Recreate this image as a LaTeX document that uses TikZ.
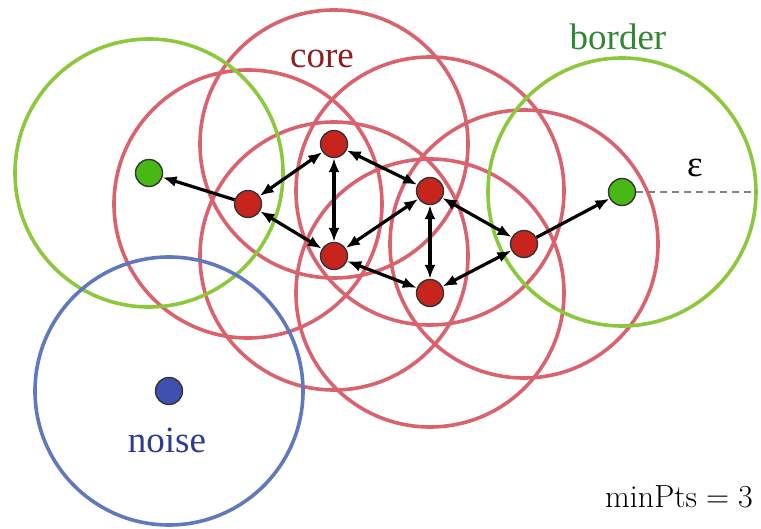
\documentclass[tikz,border=0pt]{standalone}
\usepackage{fontspec}
\newfontfamily\labfont{Liberation Serif}
\usetikzlibrary{arrows.meta}
\definecolor{redcirc}{RGB}{218,98,108}
\definecolor{greencirc}{RGB}{140,200,60}
\definecolor{bluecirc}{RGB}{95,120,190}
\definecolor{rednode}{RGB}{200,36,30}
\definecolor{greennode}{RGB}{72,185,20}
\definecolor{bluenode}{RGB}{64,80,176}
\definecolor{coretext}{RGB}{145,28,28}
\definecolor{bordertext}{RGB}{50,135,50}
\definecolor{noisetext}{RGB}{45,60,145}
\begin{document}
\begin{tikzpicture}[x=1pt,y=-1pt,
  ring/.style={line width=3.6pt},
  pt/.style={circle, draw=black!80, line width=1.4pt, minimum size=27pt, inner sep=0pt},
  arr/.style={line width=3.2pt, -{Latex[length=14pt,width=11pt]}},
  darr/.style={line width=3.2pt, {Latex[length=14pt,width=11pt]}-{Latex[length=14pt,width=11pt]}},
  lab/.style={font=\labfont\fontsize{37}{40}\selectfont, inner sep=0pt, anchor=base}
]
\useasboundingbox (0,0) rectangle (761,529);
% red circles
\foreach \p in {(248,204),(334,144),(334,256),(430,191),(430,293),(524,244)}
  \draw[ring, draw=redcirc] \p circle[radius=134pt];
% green circles
\draw[ring, draw=greencirc] (149,173) circle[radius=134pt];
\draw[ring, draw=greencirc] (622,192) circle[radius=134pt];
% blue circle
\draw[ring, draw=bluecirc] (169,391) circle[radius=134pt];
% nodes
\node[pt, fill=greennode] (GL) at (149,173) {};
\node[pt, fill=greennode] (GR) at (622,192) {};
\node[pt, fill=bluenode] (N) at (169,391) {};
\node[pt, fill=rednode] (A) at (248,204) {};
\node[pt, fill=rednode] (B) at (334,144) {};
\node[pt, fill=rednode] (C) at (334,256) {};
\node[pt, fill=rednode] (D) at (430,191) {};
\node[pt, fill=rednode] (E) at (430,293) {};
\node[pt, fill=rednode] (F) at (524,244) {};
% arrows
\draw[arr] (A) -- (GL);
\draw[arr] (F) -- (GR);
\draw[darr] (A) -- (B);
\draw[darr] (A) -- (C);
\draw[darr] (B) -- (C);
\draw[darr] (B) -- (D);
\draw[darr] (C) -- (D);
\draw[darr] (D) -- (E);
\draw[darr] (C) -- (E);
\draw[darr] (D) -- (F);
\draw[darr] (E) -- (F);
% epsilon
\coordinate (epsend) at (757,192);
\draw[draw=black!50, line width=2.4pt, dash pattern=on 7pt off 5pt] (GR.east) -- (epsend);
\node[lab] (eps) at (695,177) {ε};
% labels
\node[lab, text=coretext] (core) at (322,68) {core};
\node[lab, text=bordertext] (border) at (618,50) {border};
\node[lab, text=noisetext] (noise) at (167,453) {noise};
\node[font=\fontsize{32}{36}\selectfont, inner sep=0pt, anchor=base] (minpts) at (679,507) {minPts\hspace{0.28em}=\hspace{0.28em}3};
\end{tikzpicture}
\end{document}
